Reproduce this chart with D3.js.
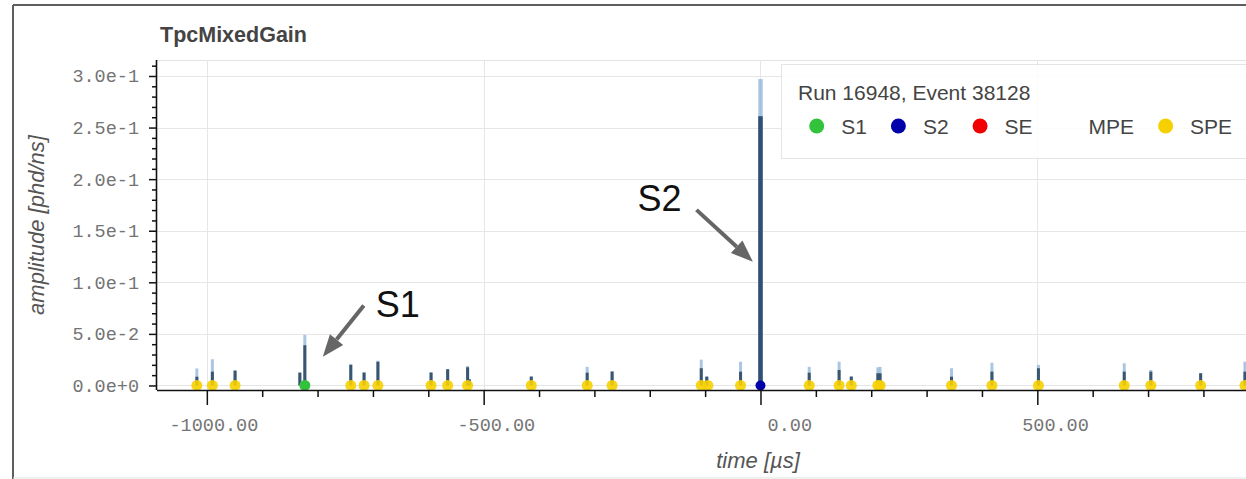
<!DOCTYPE html>
<html>
<head>
<meta charset="utf-8">
<script src="https://cdn.jsdelivr.net/npm/d3@7"></script>
<style>
  body { margin: 0; background: #fff; }
  svg { display: block; font-family: "Liberation Sans", Arial, Helvetica, sans-serif; }
</style>
</head>
<body>
<svg id="chart" width="1246" height="479"></svg>
<script>
// Pulses found in the event: time (µs), core amplitude and peak amplitude (phd/ns)
const pulseTimes = [-1018, -990, -949, -832, -823, -740, -716, -691, -595, -565, -529, -526, -414,
                    -313, -268, -107, -97, -36, 0, 88, 142, 164, 212, 216, 345, 418, 502, 657, 705, 795, 875];
const pulseCore  = [0.0085, 0.0134, 0.0144, 0.0124, 0.039, 0.0199, 0.0124, 0.023, 0.0124, 0.0157, 0.0176, 0.006, 0.0085,
                    0.0124, 0.0134, 0.0167, 0.0085, 0.0134, 0.261, 0.0124, 0.015, 0.0085, 0.0118, 0.0118, 0.0085, 0.0134, 0.0167, 0.0134, 0.0134, 0.0118, 0.0134];
const pulsePeak  = [0.0165, 0.0254, 0.0146, 0.0126, 0.049, 0.021, 0.013, 0.024, 0.013, 0.016, 0.019, 0.006, 0.009,
                    0.018, 0.014, 0.025, 0.0088, 0.023, 0.297, 0.018, 0.023, 0.009, 0.0176, 0.018, 0.0167, 0.022, 0.0199, 0.0215, 0.015, 0.012, 0.023];

// Classified pulse markers (times in µs)
const speTimes = [-1018, -990, -949, -740, -716, -691, -595, -565, -529, -414, -313, -268, -107, -95, -36,
                  88, 142, 164, 212, 216, 345, 418, 502, 657, 705, 795, 875];
const s1Times = [-823];
const s2Times = [0];

// Axis ticks
const xMajorTicks = [-1000, -500, 0, 500];
const xMinorTicks = [-1000, -900, -800, -700, -600, -500, -400, -300, -200, -100, 0, 100, 200, 300, 400, 500, 600, 700, 800, 900];
const yMajorTicks = [0, 0.05, 0.1, 0.15, 0.2, 0.25, 0.3];
const yMinorTicks = [0, 0.01, 0.02, 0.03, 0.04, 0.05, 0.06, 0.07, 0.08, 0.09, 0.1, 0.11, 0.12, 0.13, 0.14, 0.15,
                     0.16, 0.17, 0.18, 0.19, 0.2, 0.21, 0.22, 0.23, 0.24, 0.25, 0.26, 0.27, 0.28, 0.29, 0.3, 0.31];

// Legend
const legendTitle = "Run 16948, Event 38128";
const legendNames = ["S1", "S2", "SE", "MPE", "SPE"];
const legendColors = ["#33c23c", "#0000aa", "#f20000", null, "#f6d000"];

const chartTitle = "TpcMixedGain";
const xLabel = "time [µs]";
const yLabel = "amplitude [phd/ns]";

const svg = d3.select("#chart");
const W = 1246, H = 479;
const plot = { left: 157, right: 1359, top: 60, bottom: 390 };

const x = d3.scaleLinear().domain([-1090, 1081]).range([plot.left, plot.right]);
const y = d3.scaleLinear().domain([-0.0044, 0.3155]).range([plot.bottom, plot.top]);

// Outer frame
svg.append("line").attr("x1", 13).attr("x2", W).attr("y1", 5).attr("y2", 5)
  .attr("stroke", "#5e5e5e").attr("stroke-width", 2);
svg.append("line").attr("x1", 13).attr("x2", 13).attr("y1", 5).attr("y2", H)
  .attr("stroke", "#5e5e5e").attr("stroke-width", 2);
svg.append("line").attr("x1", 13).attr("x2", W).attr("y1", 478).attr("y2", 478)
  .attr("stroke", "#e2e2e2").attr("stroke-width", 1);

// Title
svg.append("text").attr("x", 160).attr("y", 41.5)
  .attr("font-size", 21.5).attr("font-weight", "bold").attr("fill", "#444")
  .text(chartTitle);

svg.append("defs").append("clipPath").attr("id", "plotClip")
  .append("rect").attr("x", plot.left).attr("y", plot.top)
  .attr("width", plot.right - plot.left).attr("height", plot.bottom - plot.top);

const body = svg.append("g").attr("clip-path", "url(#plotClip)");

// Plot outline (top edge)
body.append("line").attr("x1", plot.left).attr("x2", plot.right)
  .attr("y1", plot.top + 0.5).attr("y2", plot.top + 0.5).attr("stroke", "#e3e3e3");

// Grid
body.append("g").selectAll("line").data(yMajorTicks).join("line")
  .attr("x1", plot.left).attr("x2", plot.right)
  .attr("y1", d => Math.round(y(d)) + 0.5).attr("y2", d => Math.round(y(d)) + 0.5)
  .attr("stroke", "#e6e6e6").attr("stroke-width", 1);
body.append("g").selectAll("line").data(xMajorTicks).join("line")
  .attr("x1", d => Math.round(x(d)) + 0.5).attr("x2", d => Math.round(x(d)) + 0.5)
  .attr("y1", plot.top).attr("y2", plot.bottom)
  .attr("stroke", "#e6e6e6").attr("stroke-width", 1);

// Pulses
const pulses = pulseTimes.map((t, i) => ({ t, core: pulseCore[i], peak: pulsePeak[i] }));
const pw = d => d.peak > 0.1 ? 4.5 : 3;
body.append("g").selectAll("rect").data(pulses).join("rect")
  .attr("x", d => x(d.t) - pw(d) / 2)
  .attr("width", d => pw(d))
  .attr("y", d => y(d.peak))
  .attr("height", d => y(0) - y(d.peak))
  .attr("fill", "#8fb3d8").attr("fill-opacity", 0.75);
body.append("g").selectAll("rect").data(pulses).join("rect")
  .attr("x", d => x(d.t) - pw(d) / 2)
  .attr("width", d => pw(d))
  .attr("y", d => y(d.core))
  .attr("height", d => y(0) - y(d.core))
  .attr("fill", d => d.peak > 0.1 ? "#2f4f74" : "#3a566e");

// Markers
const markers = body.append("g");
markers.selectAll("circle.spe").data(speTimes).join("circle").attr("class", "spe")
  .attr("cx", d => x(d)).attr("cy", y(0)).attr("r", 5.5)
  .attr("fill", legendColors[4]).attr("fill-opacity", 0.9);
markers.selectAll("circle.s1").data(s1Times).join("circle").attr("class", "s1")
  .attr("cx", d => x(d)).attr("cy", y(0)).attr("r", 5.5).attr("fill", legendColors[0]);
markers.selectAll("circle.s2").data(s2Times).join("circle").attr("class", "s2")
  .attr("cx", d => x(d)).attr("cy", y(0)).attr("r", 5).attr("fill", legendColors[1]);

// Axes
const fmtX = v => d3.format(".2f")(v).replace("\u2212", "-");
const fmtY = v => d3.format(".1e")(v).replace("\u2212", "-");

const xMinor = svg.append("g").attr("transform", `translate(0,${plot.bottom})`)
  .call(d3.axisBottom(x).tickValues(xMinorTicks.filter(v => !xMajorTicks.includes(v)))
    .tickSize(7).tickSizeOuter(0).tickFormat(""));
xMinor.select(".domain").remove();
const xAxis = svg.append("g").attr("transform", `translate(0,${plot.bottom})`)
  .call(d3.axisBottom(x).tickValues(xMajorTicks).tickSize(15).tickSizeOuter(0).tickFormat(fmtX));
xAxis.select(".domain").attr("d", `M${plot.left},0.5H${plot.right}`);
xAxis.selectAll(".tick text")
  .attr("text-anchor", "end").attr("x", 51).attr("y", 40.5).attr("dy", null)
  .attr("font-family", "'Liberation Mono', 'Courier New', monospace")
  .attr("font-size", 18.5).attr("fill", "#747474");

const yMinor = svg.append("g").attr("transform", `translate(${plot.left},0)`)
  .call(d3.axisLeft(y).tickValues(yMinorTicks.filter(v => !yMajorTicks.some(m => Math.abs(m - v) < 1e-9)))
    .tickSize(5).tickSizeOuter(0).tickFormat(""));
yMinor.select(".domain").remove();
const yAxis = svg.append("g").attr("transform", `translate(${plot.left},0)`)
  .call(d3.axisLeft(y).tickValues(yMajorTicks).tickSize(8).tickSizeOuter(0).tickFormat(fmtY));
yAxis.select(".domain").attr("d", `M-0.5,${plot.top}V${plot.bottom}`);
yAxis.selectAll(".tick text")
  .attr("x", -18).attr("dy", null).attr("y", 6)
  .attr("font-family", "'Liberation Mono', 'Courier New', monospace")
  .attr("font-size", 18.5).attr("fill", "#747474");

svg.selectAll(".domain").attr("stroke", "#111").attr("stroke-width", 1.6);
svg.selectAll(".tick line").attr("stroke", "#111").attr("stroke-width", 1.5);

// Axis labels
svg.append("text").attr("x", (plot.left + plot.right) / 2).attr("y", 468)
  .attr("text-anchor", "middle").attr("font-size", 22).attr("font-style", "italic").attr("fill", "#555")
  .text(xLabel);
svg.append("text").attr("transform", `translate(44,${(plot.top + plot.bottom) / 2}) rotate(-90)`)
  .attr("text-anchor", "middle").attr("font-size", 22).attr("font-style", "italic").attr("fill", "#555")
  .text(yLabel);

// Legend
const lg = svg.append("g");
lg.append("rect").attr("x", 781.5).attr("y", 64.5).attr("width", 570).attr("height", 94)
  .attr("fill", "#fff").attr("fill-opacity", 0.85).attr("stroke", "#e4e4e4");
lg.append("text").attr("x", 798).attr("y", 99.5).attr("font-size", 21).attr("fill", "#444").text(legendTitle);
let gx = 816.7;
legendNames.forEach((name, i) => {
  if (legendColors[i]) {
    lg.append("circle").attr("cx", gx).attr("cy", 126).attr("r", 7.5).attr("fill", legendColors[i]);
  }
  const t = lg.append("text").attr("x", gx + 24.5).attr("y", 134).attr("font-size", 21).attr("fill", "#444").text(name);
  gx = gx + 24.5 + t.node().getComputedTextLength() + 31.5;
});

// Annotations pointing at the S1 and S2 pulses
const arrowColor = "#666";
function arrow(x1, y1, x2, y2) {
  const a = Math.atan2(y2 - y1, x2 - x1);
  const len = 22, half = 8.5;
  const bx = x2 - len * Math.cos(a), by = y2 - len * Math.sin(a);
  svg.append("line").attr("x1", x1).attr("y1", y1).attr("x2", bx).attr("y2", by)
    .attr("stroke", arrowColor).attr("stroke-width", 4);
  svg.append("path")
    .attr("d", `M${x2},${y2}L${bx - half * Math.sin(a)},${by + half * Math.cos(a)}L${bx + half * Math.sin(a)},${by - half * Math.cos(a)}Z`)
    .attr("fill", arrowColor);
}
const s1x = x(s1Times[0]), s2x = x(s2Times[0]);
arrow(s1x + 59, y(0.0775), s1x + 18, y(0.0278));
svg.append("text").attr("x", s1x + 71).attr("y", 317).attr("font-size", 36).attr("fill", "#111").text("S1");
arrow(s2x - 64, y(0.1702), s2x - 7.6, y(0.12));
svg.append("text").attr("x", s2x - 123).attr("y", 211).attr("font-size", 36).attr("fill", "#111").text("S2");
</script>
</body>
</html>
